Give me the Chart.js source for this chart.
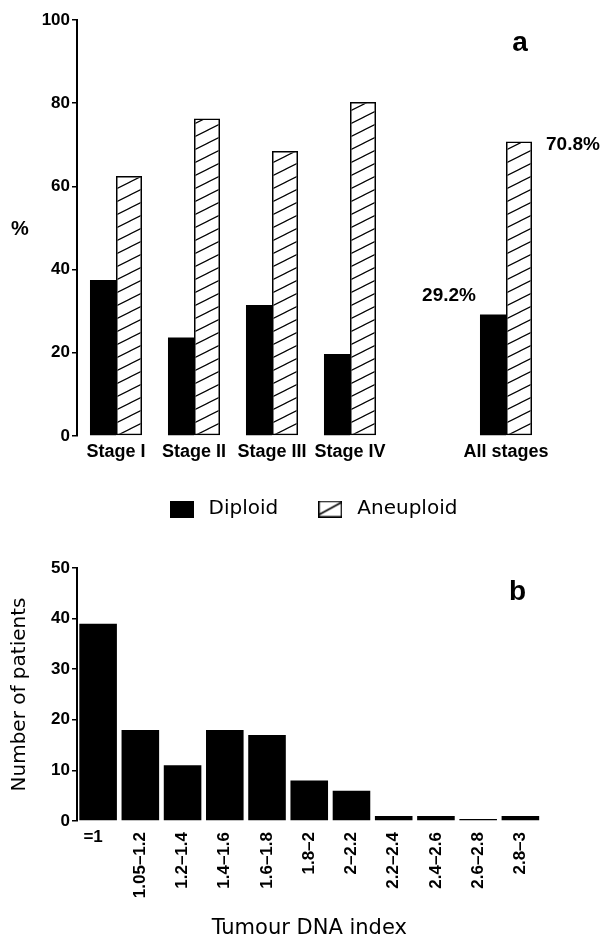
<!DOCTYPE html>
<html lang="en">
<head>
    <meta charset="UTF-8">
    <title>DNA ploidy by stage and tumour DNA index</title>
    <script src="https://cdn.jsdelivr.net/npm/chart.js"></script>
    <style>
        body {
            margin: 0;
            padding: 0;
            background: #ffffff;
            width: 607px;
            height: 941px;
            overflow: hidden;
        }
        .wrap {
            position: absolute;
            left: 0;
            width: 607px;
        }
        #wrapA { top: 0; height: 529px; }
        #wrapB { top: 529px; height: 412px; }
    </style>
</head>
<body>
    <div class="wrap" id="wrapA"><canvas id="ploidyChart"></canvas></div>
    <div class="wrap" id="wrapB"><canvas id="indexChart"></canvas></div>
    <script>
        // panel a: percentage diploid / aneuploid by stage ('' is the gap before "All stages")
        const stages = ['Stage I', 'Stage II', 'Stage III', 'Stage IV', '', 'All stages'];
        const diploid = [37.5, 23.7, 31.5, 19.7, null, 29.2];
        const aneuploid = [62.5, 76.3, 68.5, 80.3, null, 70.8];
        const pctTicks = [0, 20, 40, 60, 80, 100];

        // panel b: number of patients per tumour DNA index class
        const dnaBins = ['=1', '1.05–1.2', '1.2–1.4', '1.4–1.6', '1.6–1.8', '1.8–2', '2–2.2', '2.2–2.4', '2.4–2.6', '2.6–2.8', '2.8–3'];
        const patients = [39, 18, 11, 18, 17, 8, 6, 1, 1, 0, 1];
        const countTicks = [0, 10, 20, 30, 40, 50];

        const numFont = 'Liberation Sans';
        const textFont = 'DejaVu Sans';

        // diagonal hatch pattern for the aneuploid bars
        function makeHatch() {
            const c = document.createElement('canvas');
            c.width = 26;
            c.height = 13;
            const g = c.getContext('2d');
            g.strokeStyle = '#000';
            g.lineWidth = 1.2;
            g.beginPath();
            g.moveTo(-4, 15);
            g.lineTo(30, -2);
            g.moveTo(22, 15);
            g.lineTo(56, -2);
            g.moveTo(-30, 15);
            g.lineTo(4, -2);
            g.stroke();
            return c.getContext('2d').createPattern(c, 'repeat');
        }
        const hatch = makeHatch();

        // legend swatches
        function swatch(hatched) {
            const c = document.createElement('canvas');
            c.width = 24;
            c.height = 17;
            const g = c.getContext('2d');
            if (hatched) {
                g.strokeStyle = '#000';
                g.lineWidth = 1.5;
                g.strokeRect(0.75, 0.75, 22.5, 15.5);
                g.beginPath();
                g.moveTo(1, 14);
                g.lineTo(23, 2);
                g.stroke();
            } else {
                g.fillStyle = '#000';
                g.fillRect(0, 0, 24, 17);
            }
            return c;
        }

        const yAxisStyle = {
            grid: { drawOnChartArea: false, drawTicks: true, tickLength: 5, color: '#000', lineWidth: 1.5 },
            border: { display: true, color: '#000', width: 2 },
            afterFit: s => { s.width = 77; }
        };

        const labelsA = {
            id: 'labelsA',
            afterDraw(chart) {
                const ctx = chart.ctx;
                const area = chart.chartArea;
                const last = stages.length - 1;
                const dBar = chart.getDatasetMeta(0).data[last];
                const aBar = chart.getDatasetMeta(1).data[last];
                ctx.save();
                ctx.fillStyle = '#000';
                ctx.textBaseline = 'middle';

                ctx.font = 'bold 20px ' + numFont;
                ctx.textAlign = 'center';
                ctx.fillText('%', 20, (area.top + area.bottom) / 2 + 1);

                ctx.font = 'bold 28px ' + numFont;
                ctx.fillText('a', area.right - 25, 43);

                ctx.font = 'bold 19px ' + numFont;
                ctx.textAlign = 'right';
                ctx.fillText(diploid[last].toFixed(1) + '%', dBar.x - dBar.width / 2 - 4, dBar.y - 19);
                ctx.textAlign = 'left';
                ctx.fillText(aneuploid[last].toFixed(1) + '%', aBar.x + aBar.width / 2 + 14, aBar.y + 3);
                ctx.restore();
            }
        };

        new Chart(document.getElementById('ploidyChart'), {
            type: 'bar',
            data: {
                labels: stages,
                datasets: [
                    {
                        label: 'Diploid',
                        data: diploid,
                        backgroundColor: '#000',
                        borderWidth: 0
                    },
                    {
                        label: 'Aneuploid',
                        data: aneuploid,
                        backgroundColor: hatch,
                        borderColor: '#000',
                        borderWidth: 1.5,
                        borderSkipped: false
                    }
                ]
            },
            options: {
                responsive: true,
                maintainAspectRatio: false,
                animation: false,
                layout: { padding: { left: 0, right: 62, top: 20, bottom: 0 } },
                datasets: { bar: { categoryPercentage: 0.667, barPercentage: 1 } },
                plugins: {
                    tooltip: { enabled: false },
                    legend: {
                        position: 'bottom',
                        fullSize: false,
                        labels: {
                            usePointStyle: true,
                            pointStyleWidth: 34,
                            padding: 35,
                            color: '#000',
                            font: { family: textFont, size: 20 },
                            generateLabels: () => [
                                { text: 'Diploid', pointStyle: swatch(false), fillStyle: '#000', strokeStyle: '#000', lineWidth: 0, hidden: false, datasetIndex: 0 },
                                { text: 'Aneuploid', pointStyle: swatch(true), fillStyle: '#fff', strokeStyle: '#000', lineWidth: 0, hidden: false, datasetIndex: 1 }
                            ]
                        }
                    }
                },
                scales: {
                    x: {
                        grid: { display: false, drawTicks: false },
                        border: { display: false },
                        ticks: {
                            color: '#000',
                            autoSkip: false,
                            maxRotation: 0,
                            padding: 5,
                            font: { family: numFont, size: 18, weight: 'bold' }
                        },
                        afterFit: s => { s.height = 28; }
                    },
                    y: Object.assign({
                        min: 0,
                        max: 100,
                        afterBuildTicks: s => { s.ticks = pctTicks.map(v => ({ value: v })); },
                        ticks: {
                            color: '#000',
                            padding: 2,
                            font: { family: numFont, size: 17, weight: 'bold' }
                        }
                    }, yAxisStyle)
                }
            },
            plugins: [labelsA]
        });

        const labelsB = {
            id: 'labelsB',
            afterDraw(chart) {
                const ctx = chart.ctx;
                const area = chart.chartArea;
                const xs = chart.scales.x;
                ctx.save();
                ctx.fillStyle = '#000';
                ctx.font = 'bold 17px ' + numFont;
                dnaBins.forEach((bin, i) => {
                    const x = xs.getPixelForValue(i);
                    if (bin.length <= 2) {
                        ctx.textAlign = 'center';
                        ctx.textBaseline = 'middle';
                        ctx.fillText(bin, x - 5, area.bottom + 16);
                    } else {
                        ctx.save();
                        ctx.translate(x, area.bottom + 11);
                        ctx.rotate(-Math.PI / 2);
                        ctx.textAlign = 'right';
                        ctx.textBaseline = 'middle';
                        ctx.fillText(bin, 0, 0);
                        ctx.restore();
                    }
                });
                ctx.font = 'bold 28px ' + numFont;
                ctx.textAlign = 'center';
                ctx.textBaseline = 'middle';
                ctx.fillText('b', area.right - 24, 63);
                ctx.restore();
            }
        };

        new Chart(document.getElementById('indexChart'), {
            type: 'bar',
            data: {
                labels: dnaBins,
                datasets: [{
                    label: 'Number of patients',
                    data: patients,
                    backgroundColor: '#000',
                    borderWidth: 0,
                    minBarLength: 2
                }]
            },
            options: {
                responsive: true,
                maintainAspectRatio: false,
                animation: false,
                layout: { padding: { left: 0, right: 65.5, top: 39, bottom: 0 } },
                datasets: { bar: { categoryPercentage: 1, barPercentage: 0.89 } },
                plugins: {
                    tooltip: { enabled: false },
                    legend: { display: false }
                },
                scales: {
                    x: {
                        grid: { display: false, drawTicks: false },
                        border: { display: false },
                        ticks: { display: false },
                        title: {
                            display: true,
                            text: 'Tumour DNA index',
                            color: '#000',
                            font: { family: textFont, size: 21 },
                            padding: { top: 0, bottom: 0 }
                        },
                        afterFit: s => { s.height = 120; }
                    },
                    y: Object.assign({
                        min: 0,
                        max: 50,
                        afterBuildTicks: s => { s.ticks = countTicks.map(v => ({ value: v })); },
                        ticks: {
                            color: '#000',
                            padding: 2,
                            font: { family: numFont, size: 17, weight: 'bold' }
                        },
                        title: {
                            display: true,
                            text: 'Number of patients',
                            color: '#000',
                            font: { family: textFont, size: 20 },
                            padding: { top: 8, bottom: 0 }
                        }
                    }, yAxisStyle)
                }
            },
            plugins: [labelsB]
        });
    </script>
</body>
</html>
